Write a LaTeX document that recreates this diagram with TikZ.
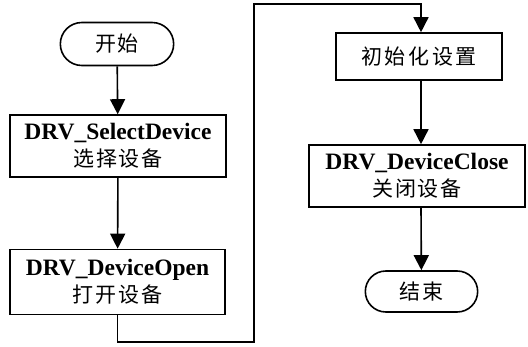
\documentclass[tikz,border=0pt]{standalone}
\usepackage{fontspec}
\setmainfont{Liberation Serif}
\newfontfamily\cjk[LetterSpace=9]{Noto Sans CJK SC}
\usetikzlibrary{arrows.meta,shapes.misc}

\begin{document}
\begin{tikzpicture}[x=1pt, y=-1pt, line width=1.6pt,
    term/.style={draw, rounded rectangle, minimum width=120pt, minimum height=43pt, font=\cjk\fontsize{21}{24}\selectfont},
    proc/.style={draw, rectangle, align=center, minimum width=216pt, minimum height=62pt, inner sep=2pt,
      font=\fontsize{23.5}{27}\selectfont\bfseries},
    zh/.style={font=\cjk\fontsize{21}{24}\selectfont},
    flow/.style={-{Triangle[length=15pt, width=15pt]}}]
  \useasboundingbox (0, 0) rectangle (528, 347);

  % Left column
  \node[term] (start) at (117, 44) {开始};
  \node[proc] (select) at (118, 146) {DRV\_SelectDevice\\{\cjk\mdseries\fontsize{21}{24}\selectfont 选择设备}};
  \node[proc, minimum width=215pt, minimum height=65pt] (open) at (117.5, 282) {DRV\_DeviceOpen\\{\cjk\mdseries\fontsize{21}{24}\selectfont 打开设备}};

  % Right column
  \node[proc, minimum width=166pt, minimum height=47pt, zh] (init) at (419, 56.5) {\addfontfeature{LetterSpace=12}初始化设置};
  \node[proc] (close) at (417, 176) {DRV\_DeviceClose\\{\cjk\mdseries\fontsize{21}{24}\selectfont 关闭设备}};
  \node[term, minimum width=119pt, minimum height=41pt] (stop) at (421.5, 291.5) {结束};

  % Connectors
  \draw[flow] (start) -- (select);
  \draw[flow] (select) -- (open);
  \coordinate (low) at (254, 342);
  \coordinate (high) at (254, 4);
  \draw[flow] (open.south) -- (open.south |- low) -- (low) -- (high) -- (high -| 421, 0) -- (421, 0 |- init.north);
  \draw[flow] (init.south -| 421, 0) -- (421, 0 |- close.north);
  \draw[flow] (close.south -| 421, 0) -- (stop);
\end{tikzpicture}
\end{document}
